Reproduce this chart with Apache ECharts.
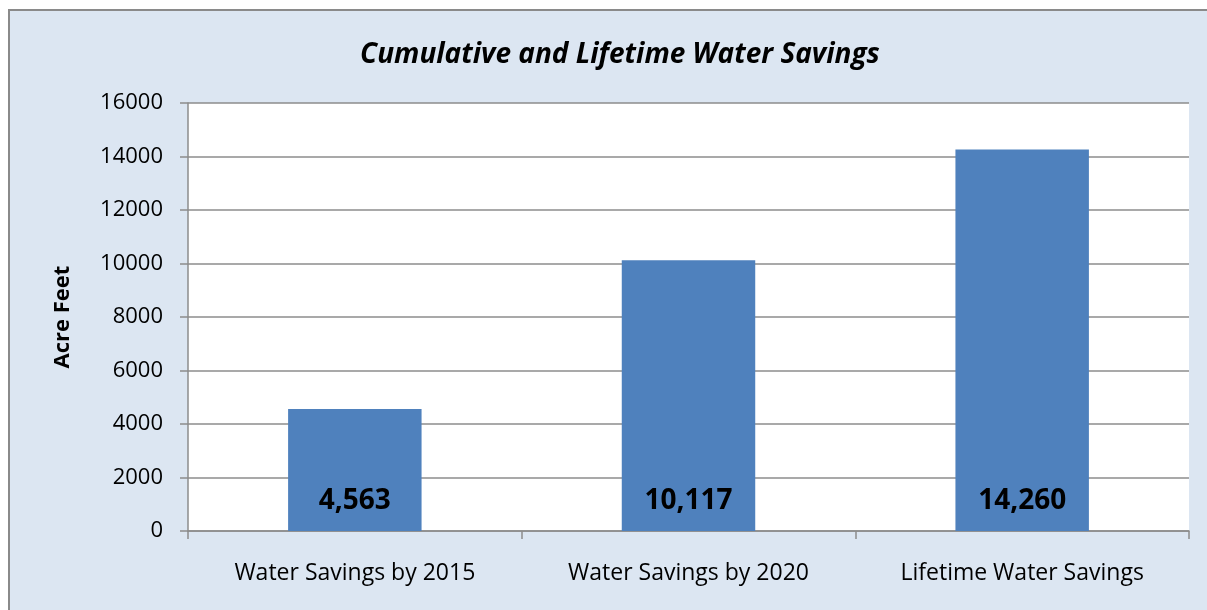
<!DOCTYPE html>
<html>
<head>
<meta charset="utf-8">
<script src="https://cdn.jsdelivr.net/npm/echarts@6/dist/echarts.min.js"></script>
<style>
html,body{margin:0;padding:0;background:#ffffff;}
#chart{width:1207px;height:610px;}
</style>
</head>
<body>
<div id="chart"></div>
<script>
const titleText = 'Cumulative and Lifetime Water Savings';
const categories = ['Water Savings by 2015', 'Water Savings by 2020', 'Lifetime Water Savings'];
const values = [4563, 10117, 14260];
const yAxisName = 'Acre Feet';

const chart = echarts.init(document.getElementById('chart'), null, {renderer: 'canvas'});
const FONT = '"Open Sans", "Noto Sans", sans-serif';
chart.setOption({
  backgroundColor: '#ffffff',
  animation: false,
  graphic: [{
    type: 'rect', z: -10, silent: true,
    shape: {x: 9, y: 10, width: 1260, height: 660},
    style: {fill: '#dce6f2', stroke: '#8a8a8a', lineWidth: 2}
  }],
  title: {
    text: titleText, left: 355, top: 36,
    textStyle: {fontFamily: FONT, fontStyle: 'italic', fontWeight: 'bold', fontSize: 28, color: '#000'}
  },
  grid: {
    left: 188, top: 103, right: 18, bottom: 79,
    show: true, backgroundColor: '#ffffff', borderWidth: 0
  },
  xAxis: {
    type: 'category', data: categories,
    axisLine: {lineStyle: {color: '#8c8c8c', width: 1.5}},
    axisTick: {show: true, length: 8, alignWithLabel: false, lineStyle: {color: '#8c8c8c', width: 1.5}},
    axisLabel: {fontFamily: FONT, fontSize: 23, color: '#000', margin: 31}
  },
  yAxis: {
    type: 'value', min: 0, max: 16000, interval: 2000,
    name: yAxisName, nameLocation: 'middle', nameGap: 114, nameRotate: 90,
    nameTextStyle: {fontFamily: FONT, fontWeight: 'bold', fontSize: 22, color: '#000'},
    axisLine: {show: true, lineStyle: {color: '#8c8c8c', width: 1.5}},
    axisTick: {show: true, length: 8, lineStyle: {color: '#8c8c8c', width: 1.5}},
    axisLabel: {fontFamily: FONT, fontSize: 22, color: '#000', margin: 25, formatter: v => String(v)},
    splitLine: {lineStyle: {color: '#8c8c8c', width: 1.5}}
  },
  series: [{
    type: 'bar', data: values, barWidth: '40%',
    itemStyle: {color: '#4f81bd'},
    label: {
      show: true, position: 'insideBottom', distance: 16,
      fontFamily: FONT, fontWeight: 'bold', fontSize: 28, color: '#000',
      formatter: p => p.value.toLocaleString('en-US')
    }
  }]
});
</script>
</body>
</html>
